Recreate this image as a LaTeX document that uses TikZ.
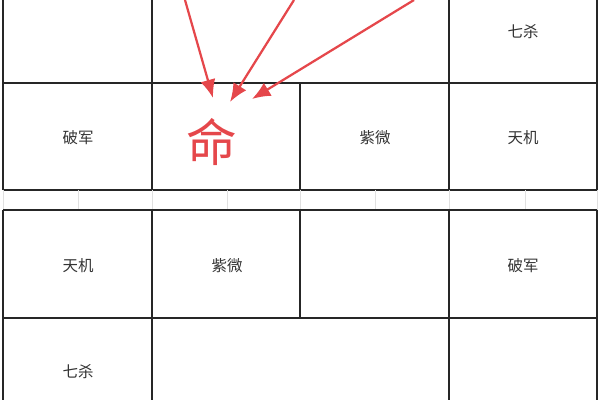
\documentclass[tikz,border=0pt]{standalone}
\usepackage{fontspec}
\newfontfamily\cjk{Noto Sans CJK SC}
\usetikzlibrary{arrows.meta}
\definecolor{mingred}{HTML}{E5474B}
\definecolor{gridgray}{HTML}{E0E0E0}
\tikzset{
  palace/.style={font=\cjk\fontsize{11}{13}\selectfont, text=black!80},
  board/.style={line width=1pt, black!85},
  strip/.style={line width=0.5pt, gridgray}
}
\begin{document}
\begin{tikzpicture}[x=0.025cm, y=-0.025cm, >={Latex[length=4.6mm,width=3.8mm]}]
\useasboundingbox (0,0) rectangle (600,400);
% upper chart
\draw[board] (3,0) -- (3,190);
\draw[board] (152,0) -- (152,190);
\draw[board] (300,83) -- (300,190);
\draw[board] (449,0) -- (449,190);
\draw[board] (597,0) -- (597,190);
\draw[board] (3,83) -- (597,83);
\draw[board] (3,190) -- (597,190);
% strip between the charts
\foreach \x in {3,78,152,227,300,375,449,525,597}
  \draw[strip] (\x,190) -- (\x,210);
% lower chart
\draw[board] (3,210) -- (597,210);
\draw[board] (3,318) -- (597,318);
\draw[board] (3,210) -- (3,400);
\draw[board] (152,210) -- (152,400);
\draw[board] (300,210) -- (300,318);
\draw[board] (449,210) -- (449,400);
\draw[board] (597,210) -- (597,400);
% stars
\node[palace] (qisha1) at (523,32) {七杀};
\node[palace] (pojun1) at (78,138) {破军};
\node[palace] (ziwei1) at (375,138) {紫微};
\node[palace] (tianji1) at (523,138) {天机};
\node[palace] (tianji2) at (78,266) {天机};
\node[palace] (ziwei2) at (227,266) {紫微};
\node[palace] (pojun2) at (523,266) {破军};
\node[palace] (qisha2) at (78,372) {七杀};
\node[font=\cjk\fontsize{36}{40}\selectfont, text=mingred] (ming) at (212,142) {命};
% arrows into the life palace
\coordinate (fromA) at (185,0);
\coordinate (fromB) at (294,0);
\coordinate (fromC) at (414,0);
\coordinate (toA) at (213,98);
\coordinate (toB) at (230,102);
\coordinate (toC) at (252,99);
\tikzset{->}
\draw[mingred, line width=1.6pt] (fromA) -- (toA);
\draw[mingred, line width=1.6pt] (fromB) -- (toB);
\draw[mingred, line width=1.6pt] (fromC) -- (toC);
\end{tikzpicture}
\end{document}
